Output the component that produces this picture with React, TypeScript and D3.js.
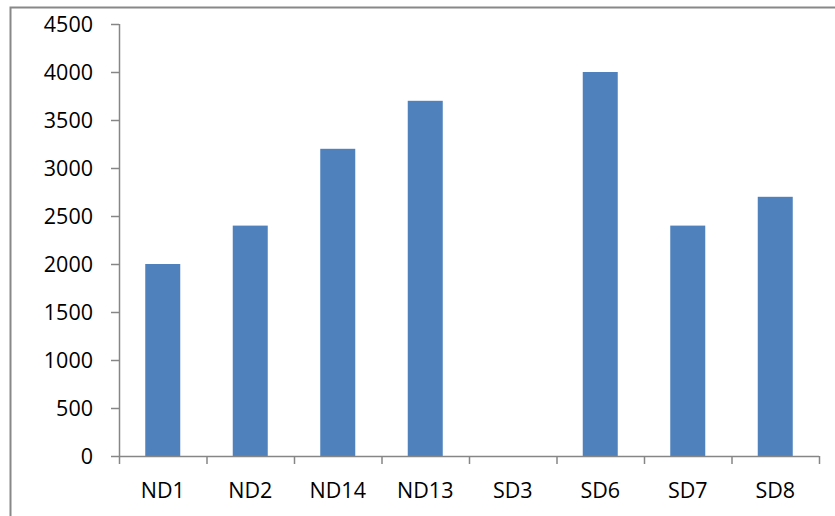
import React from "react";
import * as d3 from "d3";

const categories = ["ND1", "ND2", "ND14", "ND13", "SD3", "SD6", "SD7", "SD8"];
const values = [2000, 2400, 3200, 3700, 0, 4000, 2400, 2700];
const yTicks = [0, 500, 1000, 1500, 2000, 2500, 3000, 3500, 4000, 4500];

const W = 835;
const H = 516;
const left = 119;
const right = 819;
const top = 24;
const bottom = 456;

export default function App() {
  const xb = d3.scaleBand<string>().domain(categories).range([left, right]);
  const y = d3.scaleLinear().domain([0, 4500]).range([bottom, top]);
  const axisColor = "#868686";
  const font = "'Open Sans', 'Liberation Sans', Arial, sans-serif";
  return (
    <svg width={W} height={H} style={{ position: "absolute", left: 0, top: 0, background: "#fff" }}>
      <rect x={10.5} y={7.5} width={1000} height={1000} fill="#fff" stroke="#888" strokeWidth={2} />
      {categories.map((c, i) => {
        const bw = 35;
        const cx = (xb(c) as number) + xb.bandwidth() / 2;
        return values[i] > 0 ? (
          <rect key={c} x={cx - bw / 2} y={y(values[i])} width={bw} height={bottom - y(values[i])} fill="#4F81BD" />
        ) : null;
      })}
      <line x1={left + 0.5} x2={left + 0.5} y1={top} y2={bottom} stroke={axisColor} strokeWidth={1.5} />
      {yTicks.map((t) => (
        <g key={t}>
          <line x1={left - 8} x2={left} y1={Math.round(y(t)) + 0.5} y2={Math.round(y(t)) + 0.5} stroke={axisColor} strokeWidth={1.5} />
          <text x={93} y={y(t)} dy="0.36em" textAnchor="end" fontFamily={font} fontSize={21.5} fill="#000">
            {t}
          </text>
        </g>
      ))}
      <line x1={left} x2={right} y1={bottom + 0.5} y2={bottom + 0.5} stroke={axisColor} strokeWidth={1.5} />
      {categories.concat(["__end"]).map((c, i) => {
        const px = left + i * xb.bandwidth();
        return <line key={c} x1={px + 0.5} x2={px + 0.5} y1={bottom} y2={bottom + 8} stroke={axisColor} strokeWidth={1.5} />;
      })}
      {categories.map((c) => (
        <text key={c} x={(xb(c) as number) + xb.bandwidth() / 2} y={498} textAnchor="middle" fontFamily={font} fontSize={21.5} fill="#000">
          {c}
        </text>
      ))}
    </svg>
  );
}
